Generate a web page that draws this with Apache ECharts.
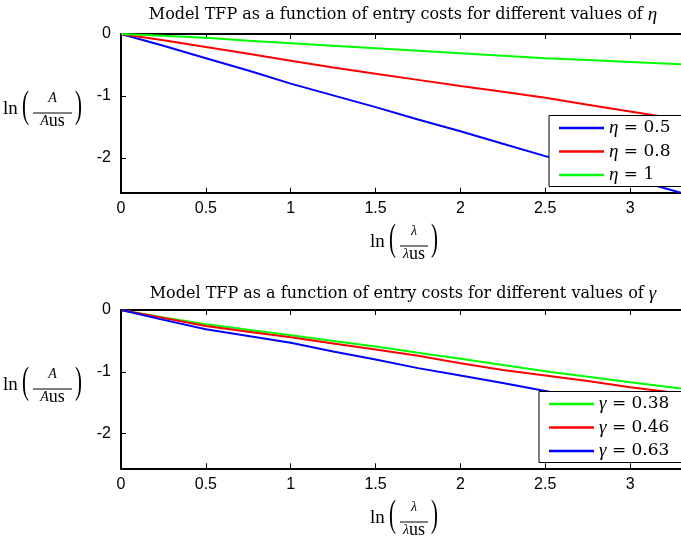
<!DOCTYPE html>
<html lang="en">
<head>
<meta charset="UTF-8" />
<title>Model TFP vs entry costs</title>
<script src="https://cdn.jsdelivr.net/npm/echarts@6/dist/echarts.min.js"></script>
<style>body { margin: 0; background: #fff; }</style>
</head>
<body>
<div id="main" style="width: 681px; height: 538px"></div>
<script type="text/javascript">
// x values: ln(lambda / lambda_us)
const lnLambda = [0, 0.25, 0.5, 0.75, 1, 1.25, 1.5, 1.75, 2, 2.25, 2.5, 2.75, 3, 3.3];

// top panel: different eta
const tfpEta05 = [0, -0.19, -0.39, -0.59, -0.80, -0.99, -1.18, -1.38, -1.57, -1.77, -1.97, -2.15, -2.33, -2.56];
const tfpEta08 = [0, -0.10, -0.21, -0.32, -0.43, -0.54, -0.64, -0.74, -0.84, -0.93, -1.03, -1.14, -1.25, -1.38];
const tfpEta1  = [0, -0.03, -0.06, -0.11, -0.15, -0.19, -0.23, -0.27, -0.31, -0.35, -0.39, -0.42, -0.45, -0.49];

// bottom panel: different gamma
const tfpGam038 = [0, -0.12, -0.23, -0.32, -0.41, -0.50, -0.59, -0.69, -0.79, -0.89, -0.99, -1.08, -1.17, -1.27];
const tfpGam046 = [0, -0.13, -0.26, -0.35, -0.44, -0.54, -0.64, -0.74, -0.86, -0.97, -1.06, -1.15, -1.25, -1.35];
const tfpGam063 = [0, -0.16, -0.31, -0.42, -0.53, -0.67, -0.80, -0.94, -1.06, -1.18, -1.31, -1.44, -1.57, -1.72];

const xTicks = [0, 0.5, 1, 1.5, 2, 2.5, 3];
const yTicks = [0, -1, -2];

const serif = 'Liberation Serif';
const wideSerif = 'DejaVu Serif';
const sans = 'Liberation Sans';

function pts(ys) {
  return lnLambda.map((x, i) => [x, ys[i]]);
}

function xAx(grid, pos) {
  return {
    type: 'value', gridIndex: grid, position: pos, min: 0, max: 3.3,
    axisLine: { show: true, onZero: false, lineStyle: { color: '#000', width: 2 } },
    axisTick: { show: true, inside: true, length: 5, customValues: xTicks, lineStyle: { color: '#000', width: 1 } },
    axisLabel: { show: pos === 'bottom', customValues: xTicks, margin: 8, color: '#000', fontFamily: sans, fontSize: 16 },
    splitLine: { show: false }
  };
}

function yAx(grid) {
  return {
    type: 'value', gridIndex: grid, min: -2.56, max: 0,
    axisLine: { show: true, onZero: false, lineStyle: { color: '#000', width: 2 } },
    axisTick: { show: true, inside: true, length: 5, customValues: yTicks, lineStyle: { color: '#000', width: 1 } },
    axisLabel: { customValues: yTicks, margin: 10, color: '#000', fontFamily: sans, fontSize: 16 },
    splitLine: { show: false }
  };
}

function line(name, ys, color, axis) {
  return {
    name: name, type: 'line', data: pts(ys), xAxisIndex: axis, yAxisIndex: axis / 2 | 0,
    showSymbol: false, symbol: 'none', lineStyle: { color: color, width: 2 }, itemStyle: { color: color },
    clip: true
  };
}

function legend(names, left, top) {
  return {
    data: names, orient: 'vertical', left: left, top: top,
    backgroundColor: '#fff', borderColor: '#000', borderWidth: 1,
    padding: [3, 24, 2, 10], itemGap: 4.5, itemWidth: 45, itemHeight: 2.5, icon: 'rect',
    formatter: n => n.replace(/^([ηγ])/, '{g|$1}'),
    textStyle: {
      fontFamily: wideSerif, fontSize: 17, lineHeight: 18, color: '#000',
      rich: { g: { fontFamily: serif, fontSize: 19, lineHeight: 18, fontStyle: 'italic', color: '#000' } }
    }
  };
}

// ln( num / den ) label drawn as text pieces; base = ln baseline
function fracLabel(x0, base, num, den, barW) {
  const t = (x, y, text, size, extra) => Object.assign({
    type: 'text', x: x, y: y,
    style: Object.assign({ text: text, fontFamily: serif, fontSize: size, fill: '#000',
      verticalAlign: 'bottom', textVerticalAlign: 'bottom' }, extra || {})
  });
  const bx = x0 + 30;
  const cx = bx + barW / 2;
  return {
    type: 'group', children: [
      t(x0, base + 4, 'ln', 19),
      Object.assign(t(x0 + 19, base + 11, '(', 38), { scaleX: 0.55 }),
      t(cx, base - 10, num, 14, { fontStyle: 'italic', align: 'center', textAlign: 'center' }),
      { type: 'line', shape: { x1: bx, y1: base - 2, x2: bx + barW, y2: base - 2 }, style: { stroke: '#000', lineWidth: 1 } },
      t(cx, base + 15, den, 18, { align: 'center', textAlign: 'center',
        rich: { a: { fontFamily: serif, fontSize: 14, fontStyle: 'italic' }, b: { fontFamily: serif, fontSize: 18 } } }),
      Object.assign(t(bx + barW + 3, base + 11, ')', 38), { scaleX: 0.55 })
    ]
  };
}

function titleOf(text, top) {
  return {
    text: text, left: 398, top: top, textAlign: 'center',
    textStyle: { fontFamily: wideSerif, fontSize: 16, fontWeight: 'normal', color: '#000',
      rich: { g: { fontFamily: serif, fontSize: 19, fontStyle: 'italic', color: '#000' } } }
  };
}

const option = {
  animation: false,
  backgroundColor: '#fff',
  title: [
    titleOf('Model TFP as a function of entry costs for different values of {g|η}', 0),
    titleOf('Model TFP as a function of entry costs for different values of {g|γ}', 279)
  ],
  grid: [
    { left: 121, top: 34, width: 561, height: 158.7 },
    { left: 121, top: 310, width: 561, height: 158.3 }
  ],
  xAxis: [xAx(0, 'bottom'), xAx(0, 'top'), xAx(1, 'bottom'), xAx(1, 'top')],
  yAxis: [yAx(0), yAx(1)],
  legend: [
    legend(['η = 0.5', 'η = 0.8', 'η = 1'], 549, 115.5),
    legend(['γ = 0.38', 'γ = 0.46', 'γ = 0.63'], 539, 391.5)
  ],
  series: [
    line('η = 0.5', tfpEta05, '#0000ff', 0),
    line('η = 0.8', tfpEta08, '#ff0000', 0),
    line('η = 1', tfpEta1, '#00ff00', 0),
    line('γ = 0.38', tfpGam038, '#00ff00', 2),
    line('γ = 0.46', tfpGam046, '#ff0000', 2),
    line('γ = 0.63', tfpGam063, '#0000ff', 2)
  ],
  graphic: [
    fracLabel(3, 115, 'A', '{a|A}{b|us}', 39),
    fracLabel(370, 248, 'λ', '{a|λ}{b|us}', 28),
    fracLabel(3, 391, 'A', '{a|A}{b|us}', 39),
    fracLabel(370, 524, 'λ', '{a|λ}{b|us}', 28)
  ]
};

const myChart = echarts.init(document.getElementById('main'));
myChart.setOption(option);
</script>
</body>
</html>
